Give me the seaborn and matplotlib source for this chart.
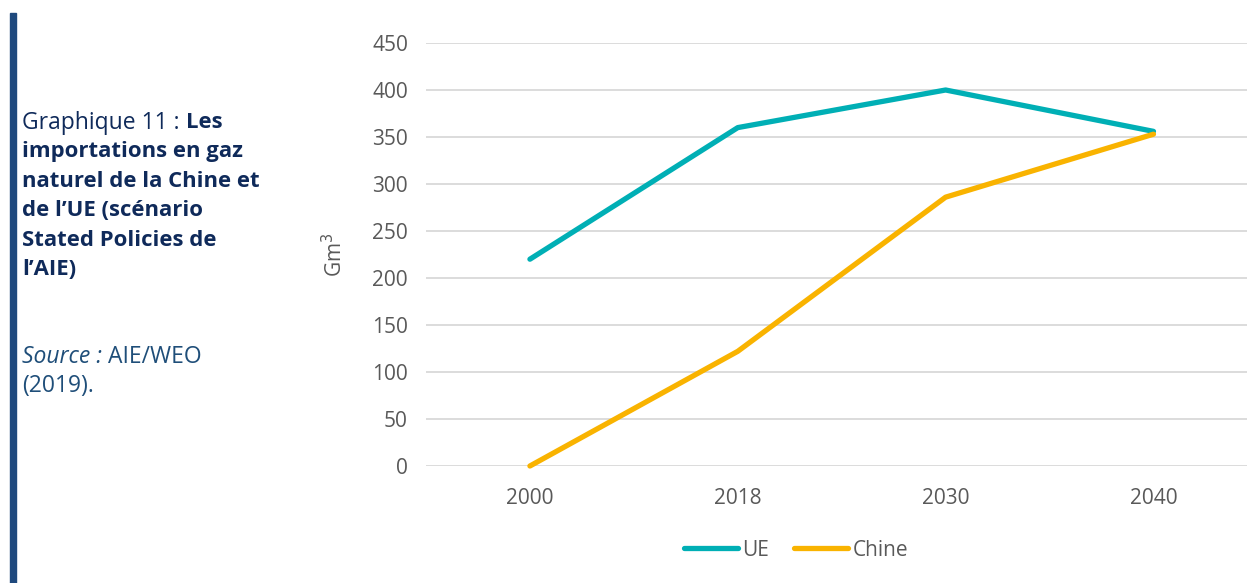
import pandas as pd
import seaborn as sns
import matplotlib.pyplot as plt
from matplotlib.patches import Rectangle

# data (Gm3)
years = ["2000", "2018", "2030", "2040"]
ue = [220, 360, 400, 356]
chine = [0, 122, 286, 353]

df = pd.DataFrame({
    "annee": years * 2,
    "valeur": ue + chine,
    "zone": ["UE"] * 4 + ["Chine"] * 4,
})

sns.set_theme(style="white")
plt.rcParams["font.family"] = ["Open Sans", "DejaVu Sans"]

fig = plt.figure(figsize=(12.47, 5.83), dpi=100)
ax = fig.add_axes([426 / 1247, 1 - 466 / 583, 821 / 1247, (466 - 43) / 583])

sns.lineplot(data=df, x="annee", y="valeur", hue="zone", sort=False,
             palette={"UE": "#00AFB5", "Chine": "#F9B300"},
             linewidth=3.8, ax=ax, clip_on=False, legend=True)
for ln in ax.lines:
    ln.set_solid_capstyle("round")
    ln.set_zorder(3)

ax.set_ylim(0, 450)
ax.set_yticks(range(0, 451, 50))
ax.set_xlim(-0.5, 3.45)
ax.yaxis.grid(True, color="#D9D9D9", linewidth=1.3)
ax.set_axisbelow(True)
for s in ax.spines.values():
    s.set_visible(False)
ax.tick_params(axis="both", length=0, labelsize=15, labelcolor="#595959")
ax.tick_params(axis="y", pad=13)
ax.tick_params(axis="x", pad=16)
ax.set_xlabel("")
ax.set_ylabel("Gm$^3$", fontsize=15, color="#595959", labelpad=18)

leg = ax.legend(loc="center", bbox_to_anchor=((796 - 426) / 821, (466 - 550) / 423),
                ncol=2, frameon=False, fontsize=15, handlelength=2.6,
                handletextpad=0.2, columnspacing=1.2)
for t in leg.get_texts():
    t.set_color("#595959")
for h in leg.get_lines():
    h.set_linewidth(3.8)
    h.set_solid_capstyle("round")

# left side caption
fig.patches.append(Rectangle((10 / 1247, 0), 6 / 1247, 1 - 13 / 583,
                             transform=fig.transFigure, color="#1F497D"))
navy = "#0F2A5A"
blue = "#1F4E79"
fs = 16.5
fs_bold = 15.9
renderer = fig.canvas.get_renderer()


def chain(y, parts):
    # write several pieces of text one after the other on the same line
    x = 22 / 1247
    for txt, kw in parts:
        t = fig.text(x, 1 - y / 583, txt, va="center", ha="left", **kw)
        bb = t.get_window_extent(renderer=renderer)
        x = bb.x1 / fig.bbox.width


chain(123, [("Graphique 11 :\u00a0", dict(color=navy, fontsize=fs)),
            ("Les", dict(color=navy, fontweight="bold", fontsize=fs_bold))])
bold_lines = ["importations en gaz", "naturel de la Chine et",
              "de l\u2019UE (sc\u00e9nario", "Stated Policies de", "l\u2019AIE)"]
for i, txt in enumerate(bold_lines):
    chain(152 + 29.4 * i, [(txt, dict(color=navy, fontweight="bold", fontsize=fs_bold))])
chain(357, [("Source :\u00a0", dict(color=blue, style="italic", fontsize=fs)),
            ("AIE/WEO", dict(color=blue, fontsize=fs))])
chain(386, [("(2019).", dict(color=blue, fontsize=fs))])

fig.savefig("out.png", dpi=100)
